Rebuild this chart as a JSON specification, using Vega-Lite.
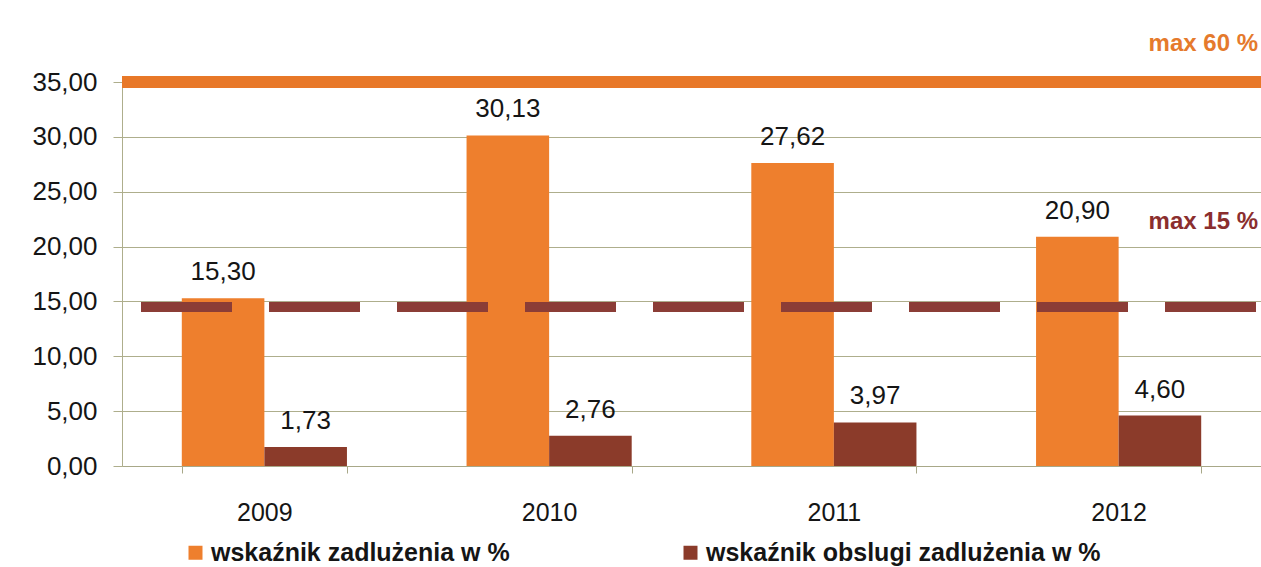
{
  "$schema": "https://vega.github.io/schema/vega-lite/v6.json",
  "width": 1139,
  "height": 384,
  "autosize": {"type": "none"},
  "padding": {"left": 122, "top": 82, "right": 0, "bottom": 101},
  "background": "white",
  "config": {
    "view": {"stroke": null},
    "font": "Liberation Sans",
    "locale": {"number": {"decimal": ",", "thousands": " ", "grouping": [3], "currency": ["", " zł"]}}
  },
  "datasets": {
    "slupki": [
      {"rok": "2009", "seria": "wskaźnik zadlużenia w %", "wartosc": 15.30},
      {"rok": "2009", "seria": "wskaźnik obslugi zadlużenia w %", "wartosc": 1.73},
      {"rok": "2010", "seria": "wskaźnik zadlużenia w %", "wartosc": 30.13},
      {"rok": "2010", "seria": "wskaźnik obslugi zadlużenia w %", "wartosc": 2.76},
      {"rok": "2011", "seria": "wskaźnik zadlużenia w %", "wartosc": 27.62},
      {"rok": "2011", "seria": "wskaźnik obslugi zadlużenia w %", "wartosc": 3.97},
      {"rok": "2012", "seria": "wskaźnik zadlużenia w %", "wartosc": 20.90},
      {"rok": "2012", "seria": "wskaźnik obslugi zadlużenia w %", "wartosc": 4.60}
    ]
  },
  "layer": [
    {
      "data": {"name": "slupki"},
      "mark": {"type": "bar"},
      "encoding": {
        "x": {
          "field": "rok", "type": "nominal",
          "scale": {"type": "band", "paddingInner": 0.42, "paddingOuter": 0.21},
          "axis": {
            "title": null, "labelAngle": 0, "labelFontSize": 25, "labelColor": "#151515",
            "labelPadding": 27, "labelBaseline": "top", "tickSize": 7, "tickBand": "extent",
            "domainColor": "#a8a888", "tickColor": "#a8a888", "grid": false
          }
        },
        "xOffset": {
          "field": "seria", "type": "nominal",
          "scale": {"domain": ["wskaźnik zadlużenia w %", "wskaźnik obslugi zadlużenia w %"], "paddingInner": 0, "paddingOuter": 0}
        },
        "y": {
          "field": "wartosc", "type": "quantitative",
          "scale": {"domain": [0, 35], "nice": false},
          "axis": {
            "title": null, "format": ".2f", "values": [0, 5, 10, 15, 20, 25, 30, 35],
            "labelFontSize": 26, "labelColor": "#151515", "tickSize": 9, "labelPadding": 16,
            "gridColor": "#aeae8c", "domainColor": "#aeae8c", "tickColor": "#aeae8c"
          }
        },
        "color": {
          "field": "seria", "type": "nominal",
          "scale": {"domain": ["wskaźnik zadlużenia w %", "wskaźnik obslugi zadlużenia w %"], "range": ["#ee7f2d", "#8b3b2a"]},
          "legend": {
            "orient": "none", "legendX": 61, "legendY": 458, "direction": "horizontal",
            "title": null, "symbolType": "square", "symbolSize": 196, "symbolStrokeWidth": 0,
            "labelFontSize": 25, "labelFontWeight": "bold", "labelColor": "#151515",
            "labelOffset": 3, "columnPadding": 168, "labelLimit": 700
          }
        }
      }
    },
    {
      "data": {"name": "slupki"},
      "mark": {"type": "text", "baseline": "alphabetic", "dy": -18, "fontSize": 26, "fill": "#151515"},
      "encoding": {
        "x": {"field": "rok", "type": "nominal"},
        "xOffset": {"field": "seria", "type": "nominal"},
        "y": {"field": "wartosc", "type": "quantitative"},
        "text": {"field": "wartosc", "type": "quantitative", "format": ".2f"}
      }
    },
    {
      "data": {"values": [{"poziom": 35}]},
      "mark": {"type": "rule", "color": "#e87828", "strokeWidth": 12},
      "encoding": {"y": {"field": "poziom", "type": "quantitative"}}
    },
    {
      "data": {"values": [{"poziom": 14.5}]},
      "mark": {"type": "rule", "color": "#8b3d36", "strokeWidth": 10, "strokeDash": [91, 37], "strokeDashOffset": 123},
      "encoding": {"y": {"field": "poziom", "type": "quantitative"}}
    },
    {
      "data": {"values": [{"etykieta": "max 60 %", "poziom": 38.5}]},
      "mark": {"type": "text", "align": "right", "baseline": "middle", "dx": -3, "fontSize": 24, "fontWeight": "bold", "fill": "#e57a2c"},
      "encoding": {
        "x": {"value": {"expr": "width"}},
        "y": {"field": "poziom", "type": "quantitative"},
        "text": {"field": "etykieta", "type": "nominal"}
      }
    },
    {
      "data": {"values": [{"etykieta": "max 15 %", "poziom": 22.2}]},
      "mark": {"type": "text", "align": "right", "baseline": "middle", "dx": -3, "fontSize": 24, "fontWeight": "bold", "fill": "#8b2e2e"},
      "encoding": {
        "x": {"value": {"expr": "width"}},
        "y": {"field": "poziom", "type": "quantitative"},
        "text": {"field": "etykieta", "type": "nominal"}
      }
    }
  ]
}
